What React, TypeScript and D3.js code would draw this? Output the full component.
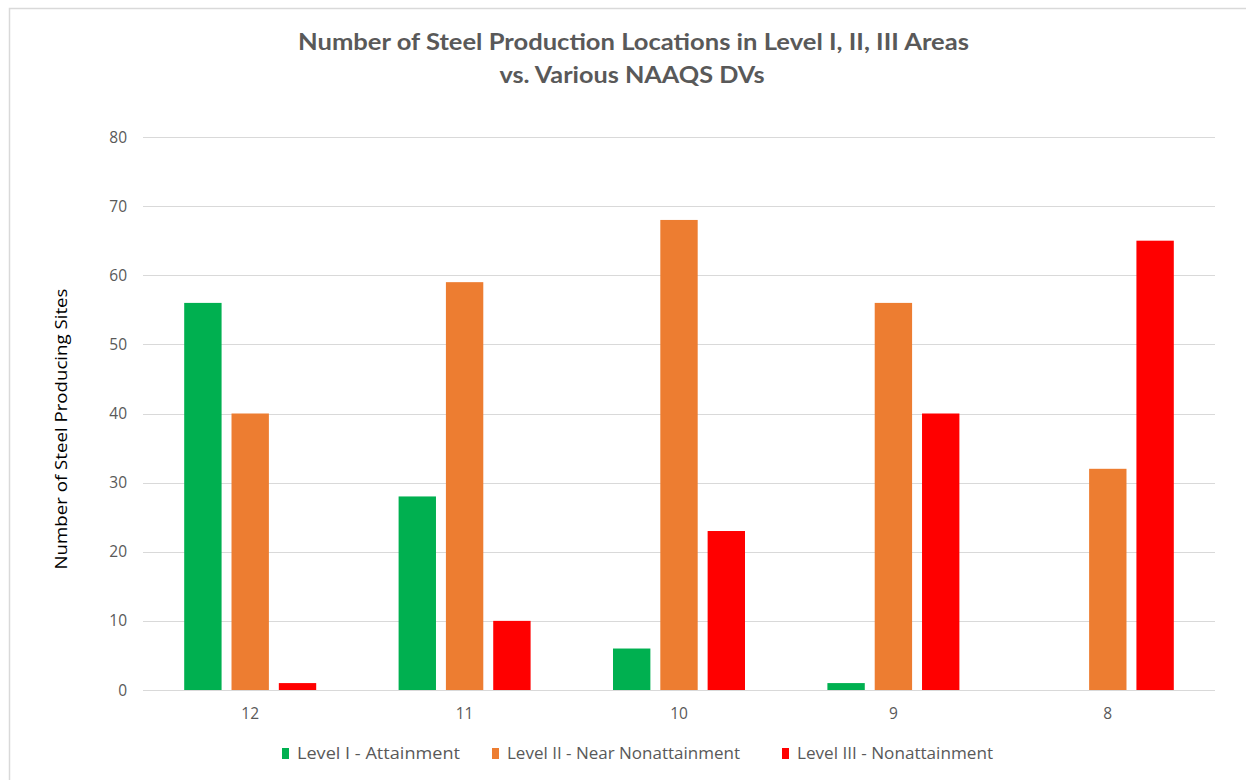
import { useEffect, useRef } from "react";
import * as d3 from "d3";

const categories = ["12", "11", "10", "9", "8"];
const seriesNames = [
  "Level I - Attainment",
  "Level II - Near Nonattainment",
  "Level III - Nonattainment",
];
const seriesColors = ["#00B050", "#ED7D31", "#FF0000"];
const levelI = [56, 28, 6, 1, 0];
const levelII = [40, 59, 68, 56, 32];
const levelIII = [1, 10, 23, 40, 65];
const yTicks = [0, 10, 20, 30, 40, 50, 60, 70, 80];

const W = 1246;
const H = 780;
const SANS = "'Open Sans', 'Noto Sans', sans-serif";
const TITLE_FONT = "Lato, 'Open Sans', sans-serif";

export default function App() {
  const ref = useRef<SVGSVGElement | null>(null);

  useEffect(() => {
    document.body.style.margin = "0";
    if (!ref.current) return;
    const svg = d3.select(ref.current);
    svg.selectAll("*").remove();

    const plot = { left: 143, right: 1215, top: 137, bottom: 690 };

    // chart border
    svg
      .append("rect")
      .attr("x", 9.5)
      .attr("y", 8.5)
      .attr("width", W)
      .attr("height", H)
      .attr("fill", "#fff")
      .attr("stroke", "#d9d9d9")
      .attr("stroke-width", 1.5);

    const x0 = d3.scaleBand<string>().domain(categories).range([plot.left, plot.right]);
    const x1 = d3
      .scaleBand<number>()
      .domain([0, 1, 2])
      .range([-66, 66])
      .paddingInner(0.21);
    const y = d3.scaleLinear().domain([0, 80]).range([plot.bottom, plot.top]);

    // gridlines
    svg
      .append("g")
      .selectAll("line")
      .data(yTicks)
      .join("line")
      .attr("x1", plot.left)
      .attr("x2", plot.right)
      .attr("y1", (d) => Math.round(y(d)) + 0.5)
      .attr("y2", (d) => Math.round(y(d)) + 0.5)
      .attr("stroke", "#d9d9d9")
      .attr("stroke-width", 1.2);

    // y tick labels
    svg
      .append("g")
      .selectAll("text")
      .data(yTicks)
      .join("text")
      .attr("x", 127)
      .attr("y", (d) => y(d) + 5.5)
      .attr("text-anchor", "end")
      .attr("font-family", SANS)
      .attr("font-size", 15.5)
      .attr("fill", "#595959")
      .text((d) => d);

    const series = [levelI, levelII, levelIII];
    const rows = categories.map((c, i) => ({
      cat: c,
      vals: series.map((s) => s[i]),
    }));

    const groups = svg
      .append("g")
      .selectAll("g")
      .data(rows)
      .join("g")
      .attr("transform", (d) => `translate(${x0(d.cat)! + x0.bandwidth() / 2},0)`);

    groups
      .selectAll("rect")
      .data((d) => d.vals.map((v, k) => ({ v, k })))
      .join("rect")
      .attr("x", (d) => x1(d.k)!)
      .attr("width", x1.bandwidth())
      .attr("y", (d) => y(d.v))
      .attr("height", (d) => y(0) - y(d.v))
      .attr("fill", (d) => seriesColors[d.k]);

    // x labels
    svg
      .append("g")
      .selectAll("text")
      .data(categories)
      .join("text")
      .attr("x", (d) => x0(d)! + x0.bandwidth() / 2)
      .attr("y", 719)
      .attr("text-anchor", "middle")
      .attr("font-family", SANS)
      .attr("font-size", 15.5)
      .attr("fill", "#595959")
      .text((d) => d);

    // title
    const title = svg
      .append("text")
      .attr("text-anchor", "middle")
      .attr("font-family", TITLE_FONT)
      .attr("font-weight", "bold")
      .attr("font-size", 23)
      .attr("fill", "#595959");
    title
      .append("tspan")
      .attr("x", 633.5)
      .attr("y", 50)
      .attr("textLength", 671)
      .attr("lengthAdjust", "spacingAndGlyphs")
      .text("Number of Steel Production Locations in Level I, II, III Areas");
    title
      .append("tspan")
      .attr("x", 632)
      .attr("y", 83)
      .attr("textLength", 265)
      .attr("lengthAdjust", "spacingAndGlyphs")
      .text("vs. Various NAAQS DVs");

    // y axis title
    svg
      .append("text")
      .attr("transform", `translate(67,429) rotate(-90)`)
      .attr("text-anchor", "middle")
      .attr("font-family", SANS)
      .attr("font-size", 17)
      .attr("textLength", 281)
      .attr("lengthAdjust", "spacingAndGlyphs")
      .attr("fill", "#000")
      .text("Number of Steel Producing Sites");

    // legend
    const legendX = [282, 492, 782];
    const legendW = [163, 233, 196];
    const leg = svg
      .append("g")
      .selectAll("g")
      .data(seriesNames)
      .join("g")
      .attr("transform", (_d, i) => `translate(${legendX[i]},759)`);
    leg
      .append("rect")
      .attr("x", 0)
      .attr("y", -11)
      .attr("width", 7)
      .attr("height", 11)
      .attr("fill", (_d, i) => seriesColors[i]);
    leg
      .append("text")
      .attr("x", 15)
      .attr("y", 0)
      .attr("font-family", SANS)
      .attr("font-size", 15.5)
      .attr("textLength", (_d, i) => legendW[i])
      .attr("lengthAdjust", "spacingAndGlyphs")
      .attr("fill", "#595959")
      .text((d) => d);
  }, []);

  return (
    <svg
      ref={ref}
      width={W}
      height={H}
      style={{ display: "block", position: "absolute", left: 0, top: 0 }}
    />
  );
}
